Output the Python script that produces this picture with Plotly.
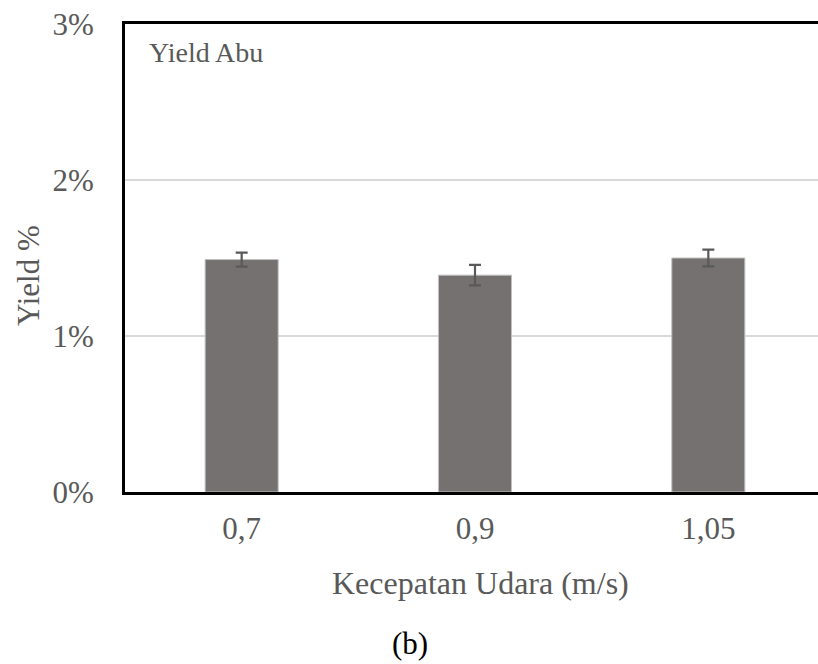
import plotly.graph_objects as go

# Air velocity categories and ash yield (%)
categories = ["0,7", "0,9", "1,05"]
yield_pct = [1.49, 1.39, 1.50]
yield_err = [0.045, 0.066, 0.054]
y_ticks = [0, 1, 2, 3]
y_tick_text = ["0%", "1%", "2%", "3%"]

W, H = 818, 664
L, R, T, B = 125, 0, 24, 172

text_gray = "#595959"
serif = "Liberation Serif, Times New Roman, serif"

fig = go.Figure(
    go.Bar(
        x=categories,
        y=yield_pct,
        width=0.313,
        marker=dict(color="#767171", line=dict(color="#bfbfbf", width=1)),
        error_y=dict(
            type="data",
            array=yield_err,
            visible=True,
            color="#595959",
            thickness=2.2,
            width=6,
        ),
    )
)

fig.update_layout(
    width=W,
    height=H,
    margin=dict(l=L, r=R, t=T, b=B),
    paper_bgcolor="white",
    plot_bgcolor="white",
    showlegend=False,
    font=dict(family=serif, color=text_gray, size=31),
    xaxis=dict(
        type="category",
        range=[-0.5, 2.47],
        showline=True,
        linecolor="black",
        linewidth=3,
        mirror=True,
        showgrid=False,
        ticks="",
        ticklabelstandoff=7,
        tickfont=dict(size=31, color=text_gray, family=serif),
    ),
    yaxis=dict(
        range=[0, 3],
        tickvals=y_ticks,
        ticktext=y_tick_text,
        showline=True,
        linecolor="black",
        linewidth=3,
        showgrid=True,
        gridcolor="#d9d9d9",
        gridwidth=1.5,
        zeroline=False,
        ticks="",
        ticklabelstandoff=22,
        tickfont=dict(size=31, color=text_gray, family=serif),
    ),
    annotations=[
        dict(
            text="Yield Abu",
            xref="paper", yref="paper",
            x=22 / (W - L - R), y=1 - 28 / (H - T - B),
            xanchor="left", yanchor="middle",
            showarrow=False,
            font=dict(size=28, color=text_gray, family=serif),
        ),
        dict(
            text="Yield %",
            xref="paper", yref="paper",
            x=-(L - 28) / (W - L - R), y=(492 - 276) / (H - T - B),
            xanchor="center", yanchor="middle",
            textangle=-90,
            showarrow=False,
            font=dict(size=31, color=text_gray, family=serif),
        ),
        dict(
            text="Kecepatan Udara (m/s)",
            xref="paper", yref="paper",
            x=(480 - L) / (W - L - R), y=-(583 - 492) / (H - T - B),
            xanchor="center", yanchor="middle",
            showarrow=False,
            font=dict(size=32, color=text_gray, family=serif),
        ),
        dict(
            text="(b)",
            xref="paper", yref="paper",
            x=(410 - L) / (W - L - R), y=-(643 - 492) / (H - T - B),
            xanchor="center", yanchor="middle",
            showarrow=False,
            font=dict(size=31, color="black", family=serif),
        ),
    ],
)

fig.write_html("out.html")
